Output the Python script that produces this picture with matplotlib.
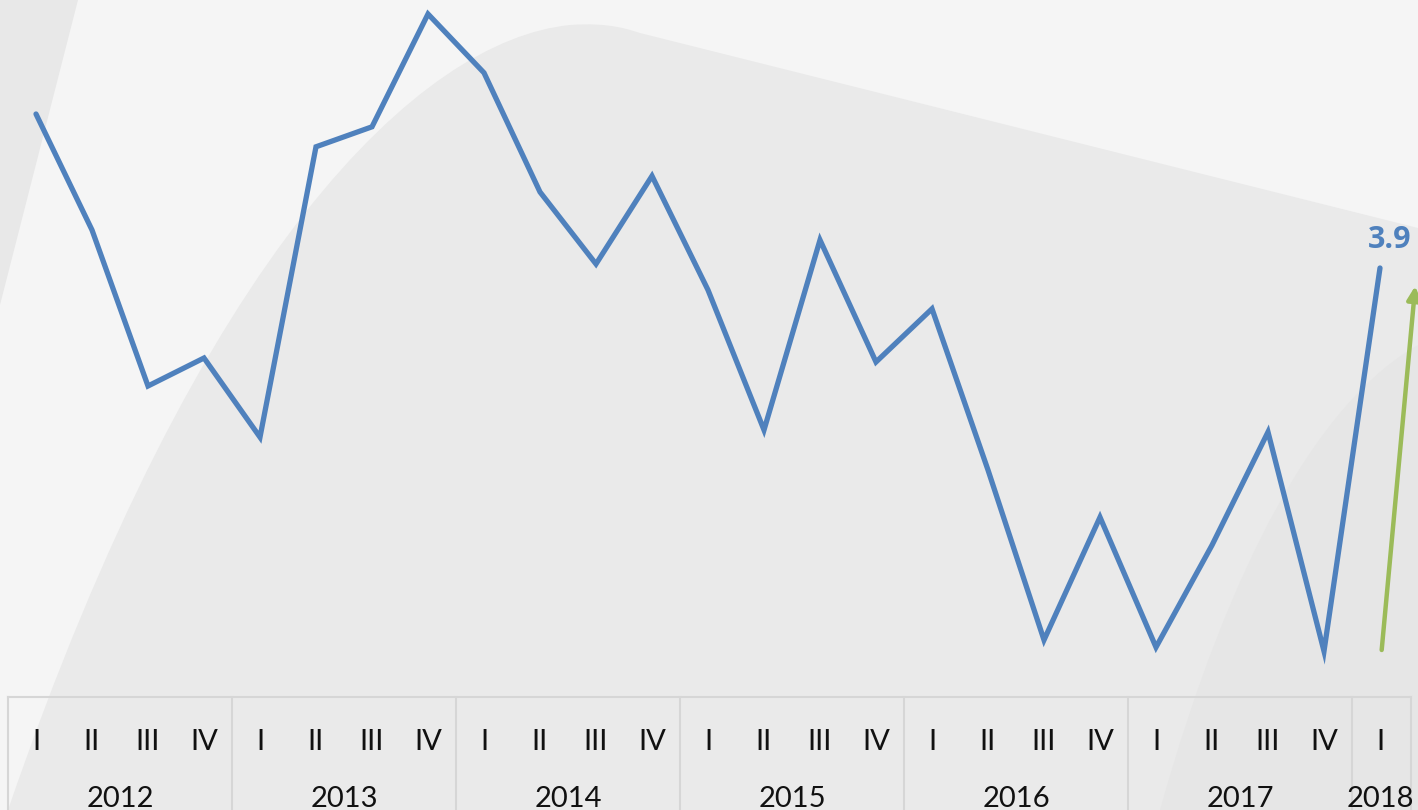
import matplotlib
matplotlib.use("Agg")
import matplotlib.pyplot as plt
from matplotlib.path import Path
from matplotlib.patches import PathPatch, Polygon
from matplotlib.lines import Line2D

# ---- data ----
years = ["2012", "2013", "2014", "2015", "2016", "2017", "2018"]
quarters_per_year = [4, 4, 4, 4, 4, 4, 1]
quarter_labels = ["I", "II", "III", "IV"]
values = [7.75, 4.85, 0.95, 1.65, -0.33, 6.93, 7.43, 10.25, 8.78,
          5.8, 4.0, 6.2, 3.35, -0.15, 4.6, 1.55, 2.88,
          -1.15, -5.4, -2.33, -5.58, -3.03, -0.2, -5.68, 3.9]
last_label = "3.9"

W, H = 1418, 810
fig = plt.figure(figsize=(W / 100, H / 100), dpi=100)
fig.patch.set_facecolor("#f5f5f5")

# ---- background decorative shapes (figure pixel coords, y from top) ----
bg = fig.add_axes([0, 0, 1, 1], zorder=0)
bg.set_xlim(0, W)
bg.set_ylim(H, 0)
bg.axis("off")
bg.add_patch(Polygon([(0, 0), (78, 0), (0, 305)], closed=True,
                     facecolor="#e8e8e8", edgecolor="none"))
verts = [(8, 810), (200, 250), (420, 40), (570, 25),
         (610, 22), (630, 30), (640, 33),
         (1418, 228), (1418, 810), (8, 810)]
codes = [Path.MOVETO, Path.CURVE4, Path.CURVE4, Path.CURVE4,
         Path.CURVE4, Path.CURVE4, Path.CURVE4,
         Path.LINETO, Path.LINETO, Path.CLOSEPOLY]
bg.add_patch(PathPatch(Path(verts, codes), facecolor="#eaeaea", edgecolor="none"))
verts2 = [(1160, 810), (1230, 560), (1320, 400), (1418, 345),
          (1418, 810), (1160, 810)]
codes2 = [Path.MOVETO, Path.CURVE4, Path.CURVE4, Path.CURVE4,
          Path.LINETO, Path.CLOSEPOLY]
bg.add_patch(PathPatch(Path(verts2, codes2), facecolor="#e6e6e6", edgecolor="none"))

# ---- main axes ----
left_px, right_px, top_px, bottom_px = 8, 1408, 0, 697
ax = fig.add_axes([left_px / W, 1 - bottom_px / H,
                   (right_px - left_px) / W, (bottom_px - top_px) / H], zorder=2)
ax.set_facecolor("none")
n = len(values)
x = list(range(n))
ax.set_xlim(-0.5, n - 0.5)
ax.set_ylim(-6.825, 10.6)
ax.plot(x, values, color="#4f81bd", lw=3.8, solid_joinstyle="miter",
        solid_capstyle="round", zorder=3)
for s in ax.spines.values():
    s.set_visible(False)
ax.set_xticks([])
ax.set_yticks([])

# label of last point
ax.annotate(last_label, (x[-1], values[-1]), xytext=(7, 9),
            textcoords="offset points", ha="center", va="bottom",
            fontsize=22, fontweight="bold", color="#4f81bd",
            family="Open Sans", annotation_clip=False)

# green arrow
ax.annotate("", xy=(x[-1] + 0.63, values[-1] - 0.45),
            xytext=(x[-1] + 0.03, values[-1] - 9.55),
            arrowprops=dict(arrowstyle="-|>", color="#9bbb59", lw=3.2,
                            mutation_scale=20, shrinkA=0, shrinkB=0),
            annotation_clip=False)

# ---- category table below ----
tb = fig.add_axes([left_px / W, 0, (right_px - left_px) / W, (H - bottom_px) / H],
                  zorder=2)
tb.set_facecolor("none")
tb.set_xlim(-0.5, n - 0.5)
tb.set_ylim(0, 1)
tb.axis("off")
line_col = "#d6d6d6"
tb.add_line(Line2D([-0.5, n - 0.5 + 0.05], [1, 1], color=line_col, lw=1.5,
                   clip_on=False))
pos = 0
bounds = [-0.5]
for yr, q in zip(years, quarters_per_year):
    for k in range(q):
        tb.text(pos + k, 0.6, quarter_labels[k], ha="center", va="center",
                fontsize=21, family="Lato", color="#111111")
    tb.text(pos + (q - 1) / 2, 0.1, yr, ha="center", va="center",
            fontsize=21, family="Lato", color="#111111")
    pos += q
    bounds.append(pos - 0.5)
for b in bounds:
    bb = b + (0.05 if b == bounds[-1] else 0)
    tb.add_line(Line2D([bb, bb], [0, 1], color=line_col, lw=1.5, clip_on=False))

fig.savefig("out.png", dpi=100, facecolor=fig.get_facecolor())
